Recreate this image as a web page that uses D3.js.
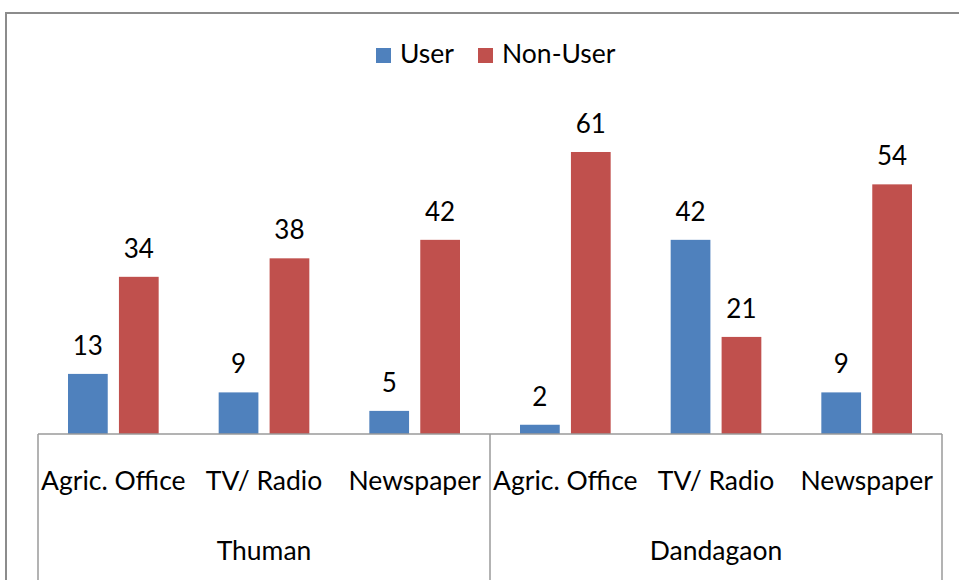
<!DOCTYPE html>
<html>
<head>
<meta charset="utf-8">
<script src="https://cdn.jsdelivr.net/npm/d3@7"></script>
<style>
  body { margin: 0; background: #fff; }
  text { font-family: Lato, "Open Sans", sans-serif; fill: #000; }
</style>
</head>
<body>
<div id="chart"></div>
<script>
var groups = ["Thuman", "Dandagaon"];
var sources = ["Agric. Office", "TV/ Radio", "Newspaper"];
var seriesNames = ["User", "Non-User"];
var userValues = [13, 9, 5, 2, 42, 9];
var nonUserValues = [34, 38, 42, 61, 21, 54];
var colors = ["#4F81BD", "#C0504D"];

var width = 959, height = 580;
var left = 38, right = 942, baseY = 434;

var svg = d3.select("#chart").append("svg")
  .attr("width", width)
  .attr("height", height);

// outer chart frame (only top and left edges visible in crop)
svg.append("path")
  .attr("d", "M6,600 L6,13 L980,13")
  .attr("fill", "none")
  .attr("stroke", "#8c8c8c")
  .attr("stroke-width", 2);

var cats = [];
groups.forEach(function (g) {
  sources.forEach(function (s) { cats.push(g + "|" + s); });
});
var rows = cats.map(function (c, i) {
  return {key: c, values: [userValues[i], nonUserValues[i]]};
});

var x0 = d3.scaleBand().domain(cats).range([left, right]).paddingInner(0).paddingOuter(0);
var x1 = d3.scaleBand().domain(seriesNames).range([30, x0.bandwidth() - 30]).paddingInner(0.22);
var y = d3.scaleLinear().domain([0, 70]).range([baseY, baseY - 70 * 4.623]);

var cat = svg.selectAll(".cat")
  .data(rows)
  .enter().append("g")
  .attr("class", "cat")
  .attr("transform", function (d) { return "translate(" + x0(d.key) + ",0)"; });

var bars = cat.selectAll(".bar")
  .data(function (d) { return d.values.map(function (v, i) { return {name: seriesNames[i], value: v, i: i}; }); })
  .enter();

bars.append("rect")
  .attr("x", function (d) { return x1(d.name); })
  .attr("y", function (d) { return y(d.value); })
  .attr("width", x1.bandwidth())
  .attr("height", function (d) { return baseY - y(d.value); })
  .attr("fill", function (d) { return colors[d.i]; });

bars.append("text")
  .attr("x", function (d) { return x1(d.name) + x1.bandwidth() / 2; })
  .attr("y", function (d) { return y(d.value) - 19; })
  .attr("text-anchor", "middle")
  .style("font-size", "26px")
  .text(function (d) { return d.value; });

// axis lines
var axis = svg.append("g").attr("stroke", "#9a9a9a").attr("stroke-width", 1.5);
axis.append("line").attr("x1", left).attr("x2", right).attr("y1", baseY).attr("y2", baseY);
[left, x0(cats[3]), right].forEach(function (xx) {
  axis.append("line").attr("x1", xx).attr("x2", xx).attr("y1", baseY).attr("y2", 580);
});

// category labels
svg.selectAll(".catlabel")
  .data(rows)
  .enter().append("text")
  .attr("x", function (d) { return x0(d.key) + x0.bandwidth() / 2; })
  .attr("y", 490)
  .attr("text-anchor", "middle")
  .style("font-size", "26.5px")
  .text(function (d) { return d.key.split("|")[1]; });

// group labels
svg.selectAll(".grouplabel")
  .data(groups)
  .enter().append("text")
  .attr("x", function (g, i) { return x0(cats[i * 3]) + x0.bandwidth() * 1.5; })
  .attr("y", 560)
  .attr("text-anchor", "middle")
  .style("font-size", "26.5px")
  .text(function (g) { return g; });

// legend
var legendX = [376, 478];
var legend = svg.selectAll(".legend")
  .data(seriesNames)
  .enter().append("g")
  .attr("transform", function (d, i) { return "translate(" + legendX[i] + ",48)"; });
legend.append("rect").attr("width", 15).attr("height", 15)
  .attr("fill", function (d, i) { return colors[i]; });
legend.append("text").attr("x", 24).attr("y", 15)
  .style("font-size", "26.5px")
  .text(function (d) { return d; });
</script>
</body>
</html>
